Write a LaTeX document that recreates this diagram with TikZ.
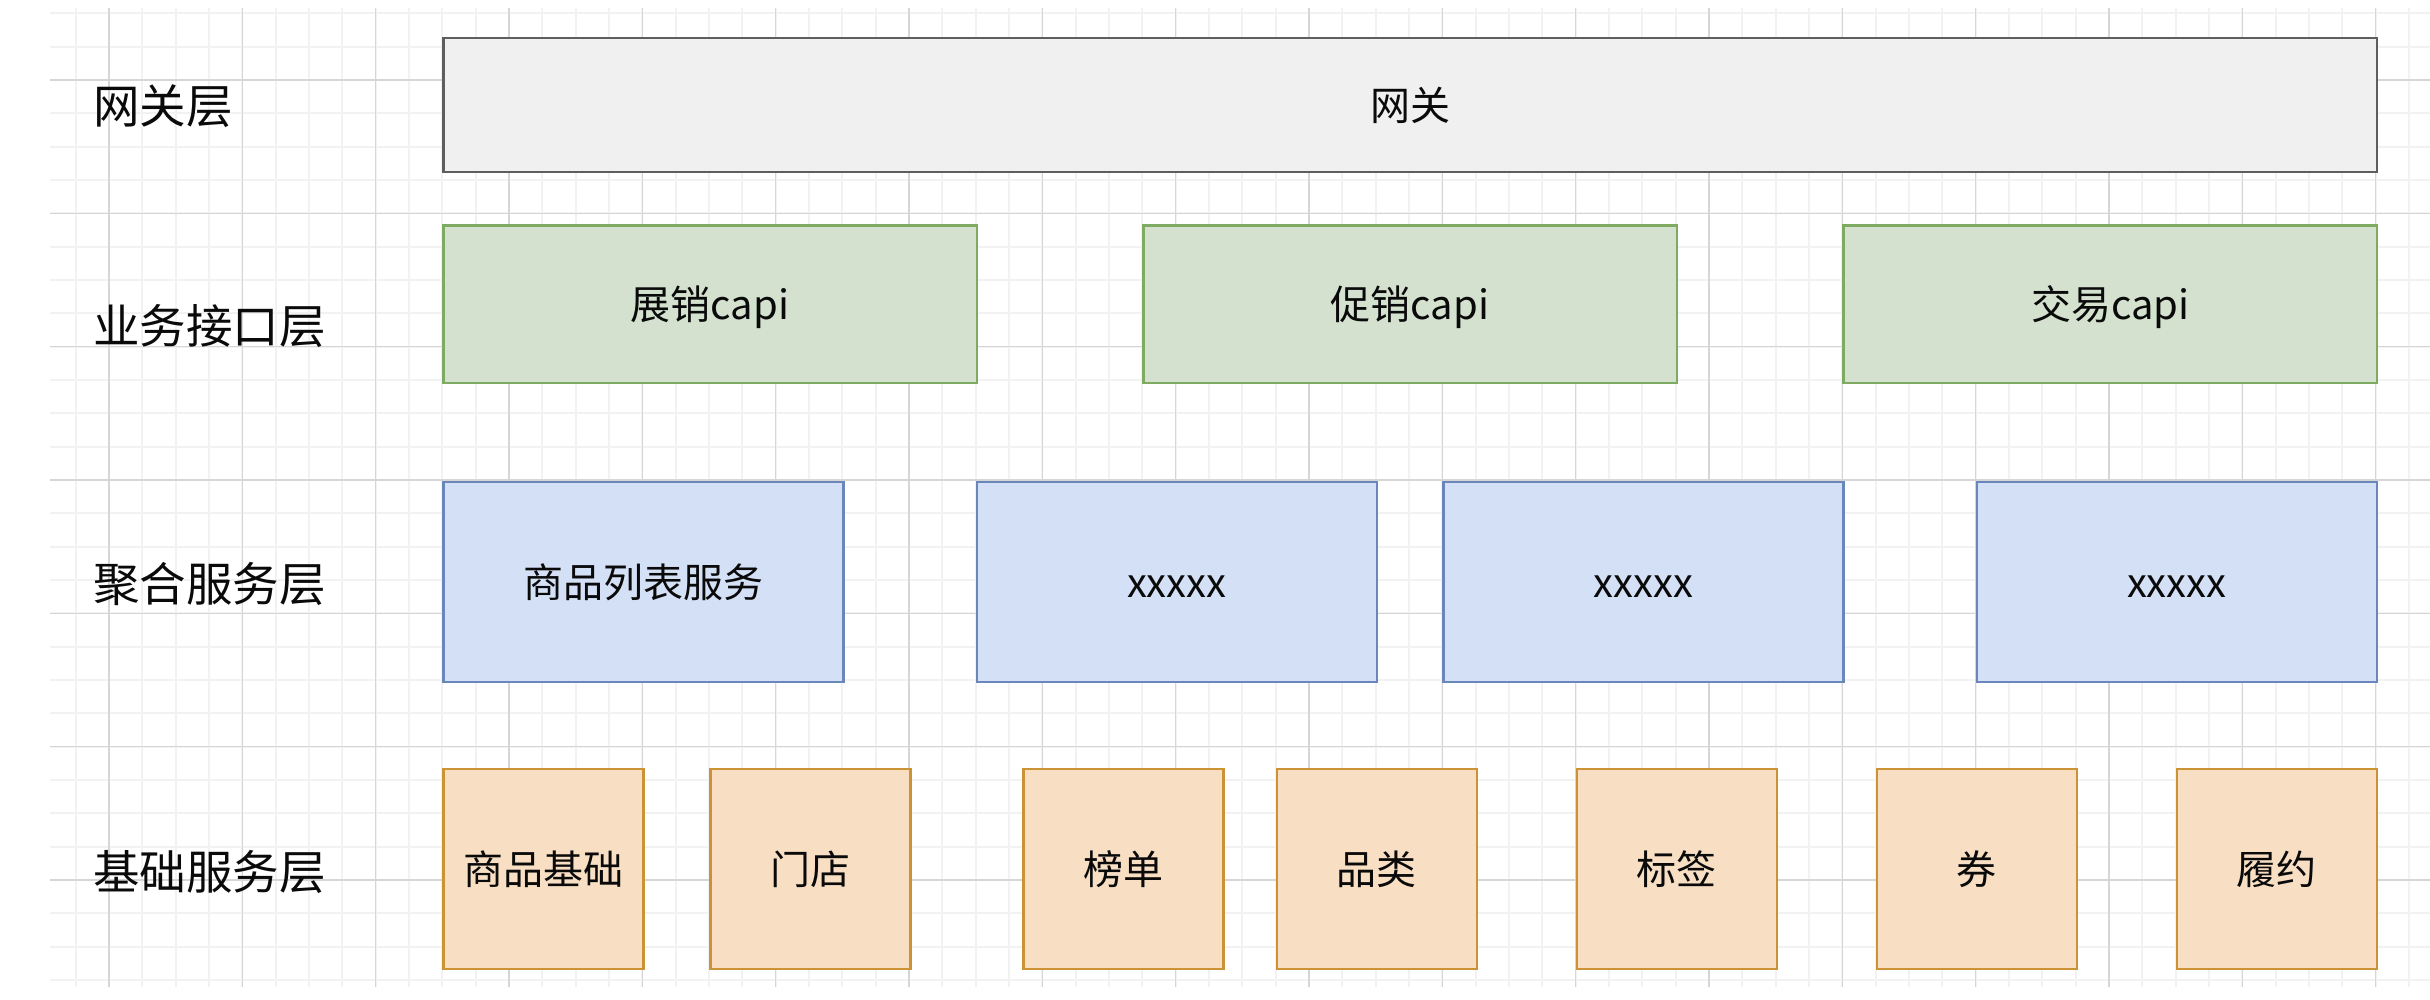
\documentclass[tikz,border=0pt]{standalone}
\usepackage{fontspec}
\setmainfont{Noto Sans CJK SC}
\definecolor{gridminor}{HTML}{F2F2F2}
\definecolor{gridmajor}{HTML}{D6D6D6}
\definecolor{gwfill}{HTML}{F0F0F0}
\definecolor{gwdraw}{HTML}{5E5E5E}
\definecolor{grfill}{HTML}{D3E1CE}
\definecolor{grdraw}{HTML}{7FAA62}
\definecolor{blfill}{HTML}{D4E0F6}
\definecolor{bldraw}{HTML}{6A86BB}
\definecolor{orfill}{HTML}{F8DFC4}
\definecolor{ordraw}{HTML}{CC9236}
\definecolor{txt}{HTML}{0A0A0A}
\begin{document}
\begin{tikzpicture}[x=1pt,y=-1pt,
  minorline/.style={draw=gridminor,line width=2pt},
  majorline/.style={draw=gridmajor,line width=1.5pt},
  box/.style={draw,line width=2.2pt,inner sep=0pt,anchor=north west,
    text=txt,font=\fontsize{40}{48}\selectfont,text height=35.2pt,text depth=4.8pt},
  gwbox/.style={box,fill=gwfill,draw=gwdraw},
  capibox/.style={box,fill=grfill,draw=grdraw,minimum width=533.3pt,minimum height=157pt},
  aggbox/.style={box,fill=blfill,draw=bldraw,minimum width=400pt,minimum height=200pt},
  basebox/.style={box,fill=orfill,draw=ordraw,minimum width=200pt,minimum height=200pt},
  layer/.style={anchor=west,inner sep=0pt,text=txt,font=\fontsize{46.5}{56}\selectfont,
    text height=40.9pt,text depth=5.6pt}]
\useasboundingbox (0,0) rectangle (2430,1000);
\fill[white] (0,0) rectangle (2430,1000);
\begin{scope}
  \clip (50,8) rectangle (2430,987);
  \foreach \i in {-1,...,69} \draw[minorline] ({109+33.3333*\i},8) -- ({109+33.3333*\i},987);
  \foreach \j in {-2,...,27} \draw[minorline] (50,{80+33.3333*\j}) -- (2430,{80+33.3333*\j});
  \foreach \i in {0,...,17} \draw[majorline] ({109+133.3333*\i},8) -- ({109+133.3333*\i},987);
  \foreach \j in {0,...,6} \draw[majorline] (50,{80+133.3333*\j}) -- (2430,{80+133.3333*\j});
\end{scope}

% layer labels
\node[layer] (l1) at (93,106) {网关层};
\node[layer] (l2) at (93,326) {业务接口层};
\node[layer] (l3) at (93,584) {聚合服务层};
\node[layer] (l4) at (93,872) {基础服务层};

% gateway
\node[gwbox,minimum width=1933.4pt,minimum height=134pt] (gw) at (442.3,37) {网关};

% business interface layer
\node[capibox] (c1) at (442.3,224.5) {展销capi};
\node[capibox] (c2) at (1142.3,224.5) {促销capi};
\node[capibox] (c3) at (1842.4,224.5) {交易capi};

% aggregation layer
\node[aggbox] (a1) at (442.3,481) {商品列表服务};
\node[aggbox] (a2) at (975.7,481) {xxxxx};
\node[aggbox] (a3) at (1442.3,481) {xxxxx};
\node[aggbox] (a4) at (1975.7,481) {xxxxx};

% base service layer
\node[basebox] (b1) at (442.3,767.7) {商品基础};
\node[basebox] (b2) at (709.3,767.7) {门店};
\node[basebox] (b3) at (1022.3,767.7) {榜单};
\node[basebox] (b4) at (1275.6,767.7) {品类};
\node[basebox] (b5) at (1575.6,767.7) {标签};
\node[basebox] (b6) at (1875.6,767.7) {券};
\node[basebox] (b7) at (2175.7,767.7) {履约};
\end{tikzpicture}
\end{document}
